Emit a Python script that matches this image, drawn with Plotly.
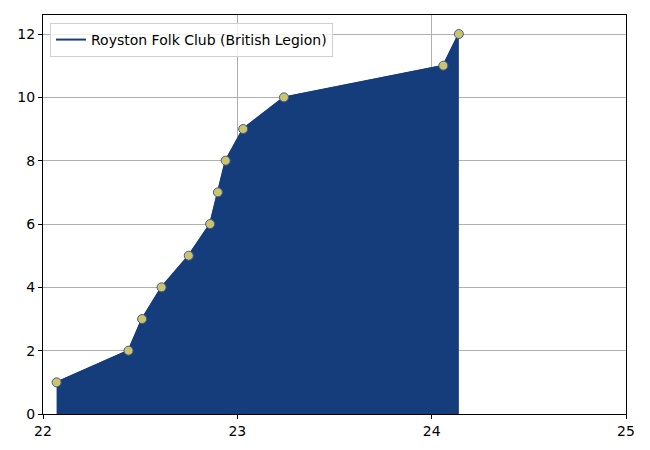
import plotly.graph_objects as go

x_vals = [22.07, 22.44, 22.51, 22.61, 22.75, 22.86, 22.90, 22.94, 23.03, 23.24, 24.06, 24.14]
y_vals = [1, 2, 3, 4, 5, 6, 7, 8, 9, 10, 11, 12]
series_name = "Royston Folk Club (British Legion)"
x_ticks = [22, 23, 24, 25]
y_ticks = [0, 2, 4, 6, 8, 10, 12]

fill_color = "#163d7b"
marker_color = "#cdc36a"
marker_edge = "#3f5f93"

fig = go.Figure()
fig.add_trace(go.Scatter(
    x=x_vals, y=y_vals, mode="lines", fill="tozeroy",
    fillcolor=fill_color, line=dict(color=fill_color, width=1.5),
    showlegend=False, hoverinfo="skip",
))
fig.add_trace(go.Scatter(
    x=x_vals, y=y_vals, mode="lines",
    line=dict(color=fill_color, width=2),
    name=series_name, showlegend=True,
))
fig.add_trace(go.Scatter(
    x=x_vals, y=y_vals, mode="markers",
    marker=dict(color=marker_color, size=9, line=dict(color=marker_edge, width=1)),
    showlegend=False, hoverinfo="skip",
))

axis_common = dict(
    showline=True, linecolor="black", linewidth=1, mirror=True,
    showgrid=True, gridcolor="#b0b0b0", gridwidth=1,
    ticks="outside", ticklen=4, tickcolor="black",
    zeroline=False, tickfont=dict(family="DejaVu Sans", size=14, color="black"),
)

fig.update_layout(
    width=650, height=450,
    margin=dict(l=35, r=32, t=7, b=44),
    paper_bgcolor="white", plot_bgcolor="white",
    font=dict(family="DejaVu Sans", size=14, color="black"),
    xaxis=dict(range=[22, 25], tickvals=x_ticks, **axis_common),
    yaxis=dict(range=[0, 12.6], tickvals=y_ticks, **axis_common),
    legend=dict(
        x=0.012, y=0.98, xanchor="left", yanchor="top",
        bgcolor="rgba(255,255,255,0.8)", bordercolor="#d0d0d0", borderwidth=1,
        font=dict(family="DejaVu Sans", size=14),
        tracegroupgap=0,
    ),
)

fig.write_html("out.html")
